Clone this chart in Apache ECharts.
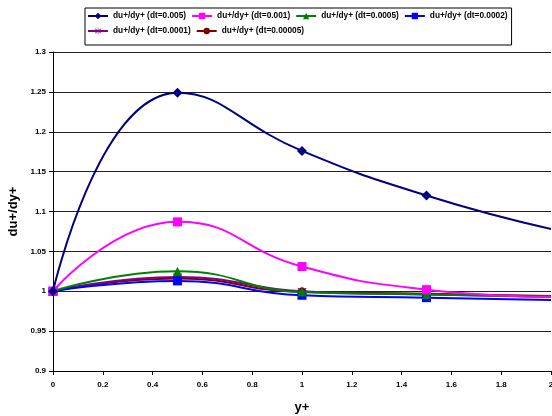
<!DOCTYPE html>
<html><head><meta charset="utf-8">
<script src="https://cdn.jsdelivr.net/npm/echarts@6/dist/echarts.min.js"></script>
<style>html,body{margin:0;padding:0;background:#fff}#c{width:552px;height:416px}</style>
</head><body><div id="c"></div>
<script>
const xValues = [0, 0.5, 1, 1.5, 2];
const seriesNames = ['du+/dy+ (dt=0.005)','du+/dy+ (dt=0.001)','du+/dy+ (dt=0.0005)','du+/dy+ (dt=0.0002)','du+/dy+ (dt=0.0001)','du+/dy+ (dt=0.00005)'];
const s_dt0005 = [1, 1.249, 1.176, 1.120, 1.078];
const s_dt0001 = [1, 1.087, 1.031, 1.002, 0.993];
const s_dt00005 = [1, 1.025, 0.999, 0.996, 0.993];
const s_dt00002 = [1, 1.013, 0.995, 0.992, 0.989];
const s_dt00001 = [1, 1.018, 1.000, 0.996, 0.993];
const s_dt000005 = [1, 1.016, 0.999, 0.997, 0.994];
const allData = [s_dt0005, s_dt0001, s_dt00005, s_dt00002, s_dt00001, s_dt000005];
const colors = ['#000080','#FF00FF','#008000','#0000FF','#800080','#800000'];
const symbols = ['diamond','rect','triangle','rect','path://M5,0 L6,0 L6,4 L10,1 L10.6,2 L6.6,5 L10.6,8 L10,9 L6,6 L6,10 L5,10 L5,6 L1,9 L0.4,8 L4.4,5 L0.4,2 L1,1 L5,4 Z','circle'];
const sizes = [10,9,9,9,9,9];
const chart = echarts.init(document.getElementById('c'));
const font = 'Arial, "Liberation Sans", sans-serif';
chart.setOption({
  animation: false,
  legend: {
    top: 8, left: 85, width: 440,
    padding: [3, 4, 9, 2], itemGap: 5,
    borderColor: '#000', borderWidth: 1,
    itemWidth: 20, itemHeight: 8,
    textStyle: {fontSize: 8.3, lineHeight: 10, fontWeight: 'bold', fontFamily: font, color: '#000'},
    data: seriesNames
  },
  grid: {left: 53, right: 1, top: 52, bottom: 45, outerBoundsMode: 'none', containLabel: false},
  xAxis: {
    type: 'value', min: 0, max: 2, interval: 0.2,
    name: 'y+', nameLocation: 'middle', nameGap: 30,
    nameTextStyle: {fontSize: 13, fontWeight: 'bold', fontFamily: font, color: '#000'},
    axisLine: {lineStyle: {color: '#000', width: 1}},
    axisTick: {show: true, length: 4, lineStyle: {color: '#000'}},
    axisLabel: {fontSize: 8, fontWeight: 'bold', fontFamily: font, color: '#000', margin: 10, showMaxLabel: true},
    splitLine: {show: false}
  },
  yAxis: {
    type: 'value', min: 0.9, max: 1.3, interval: 0.05,
    name: 'du+/dy+', nameLocation: 'middle', nameGap: 31,
    nameTextStyle: {fontSize: 13, fontWeight: 'bold', fontFamily: font, color: '#000'},
    axisLine: {show: true, lineStyle: {color: '#000', width: 1}},
    axisTick: {show: true, length: 4, lineStyle: {color: '#000'}},
    axisLabel: {fontSize: 8, fontWeight: 'bold', fontFamily: font, color: '#000', margin: 7,
      formatter: v => String(Math.round(v*100)/100)},
    splitLine: {show: true, lineStyle: {color: '#222', width: 1}}
  },
  series: seriesNames.map((n, i) => ({
    name: n, type: 'line', smooth: 0.5,
    data: xValues.map((x, j) => j === xValues.length - 1
      ? {value: [x, allData[i][j]], symbol: 'none'}
      : [x, allData[i][j]]),
    symbol: symbols[i], symbolSize: sizes[i], showSymbol: true,
    lineStyle: {color: colors[i], width: 2},
    itemStyle: {color: colors[i]},
    clip: true, z: 10 - i
  }))
});
</script></body></html>
